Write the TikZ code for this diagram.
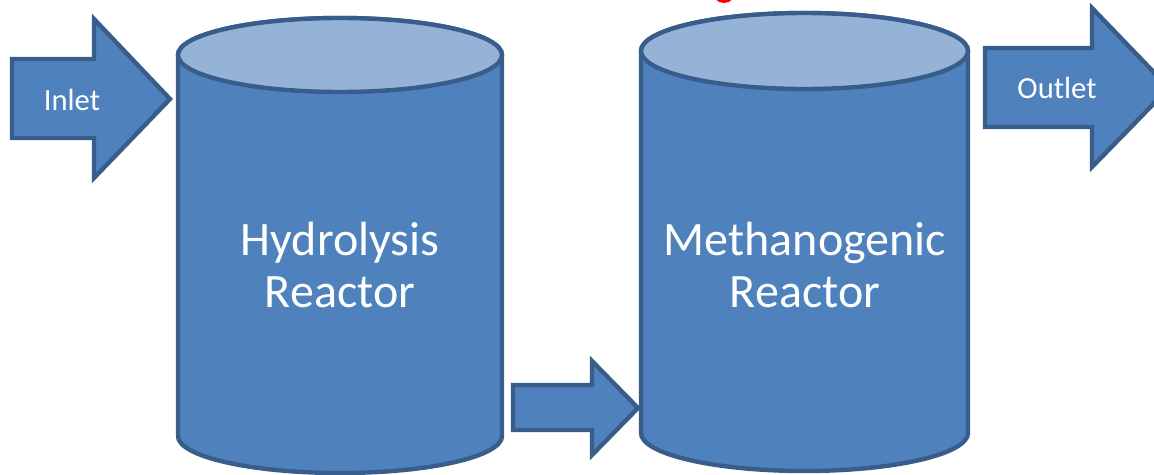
\documentclass[tikz,border=0pt]{standalone}
\usepackage{fontspec}
\setmainfont{Carlito}
\definecolor{boxfill}{HTML}{4F81BD}
\definecolor{boxline}{HTML}{385D8A}
\definecolor{topfill}{HTML}{95B3D7}
\begin{document}
\begin{tikzpicture}[x=0.75pt,y=-0.75pt,
  blueshape/.style={fill=boxfill,draw=boxline,line width=3.3pt,line join=miter},
  topface/.style={fill=topfill,draw=boxline,line width=3.3pt},
  bigtext/.style={text=white,align=center,inner sep=0pt,font=\fontsize{36}{39}\selectfont},
  smalltext/.style={text=white,inner sep=0pt,anchor=base,font=\fontsize{23}{27}\selectfont}]
\useasboundingbox (0,0) rectangle (1154,475);
\clip (0,0) rectangle (1154,475);
% red partial shape at top
\fill[red] (724,-10) ellipse (12.5 and 13);
% inlet arrow
\draw[blueshape] (12,59) -- (94,59) -- (94,19) -- (170,99) -- (94,178) -- (94,138) -- (12,138) -- cycle;
\node[smalltext] (inlet) at (72,110) {Inlet};
% hydrolysis reactor
\draw[blueshape] (178,55) -- (178,436) arc (180:0:162 and 37) -- (502,55) arc (0:-180:162 and 37) -- cycle;
\draw[topface] (340,55) ellipse (162 and 37);
\node[bigtext] (hyd) at (340,265) {Hydrolysis\\Reactor};
% transfer arrow
\draw[blueshape] (513,385) -- (592,385) -- (592,361) -- (638,408) -- (592,455) -- (592,430) -- (513,430) -- cycle;
% methanogenic reactor
\draw[blueshape] (641,51) -- (641,433) arc (180:0:163.5 and 38) -- (968,51) arc (0:-180:163.5 and 38) -- cycle;
\draw[topface] (804.5,51) ellipse (163.5 and 38);
\node[bigtext] (meth) at (805,265) {Methanogenic\\Reactor};
% outlet arrow
\draw[blueshape] (985,48) -- (1092,48) -- (1092,8) -- (1169,88) -- (1092,167) -- (1092,127) -- (985,127) -- cycle;
\node[smalltext] (outlet) at (1057,98) {Outlet};
\end{tikzpicture}
\end{document}
